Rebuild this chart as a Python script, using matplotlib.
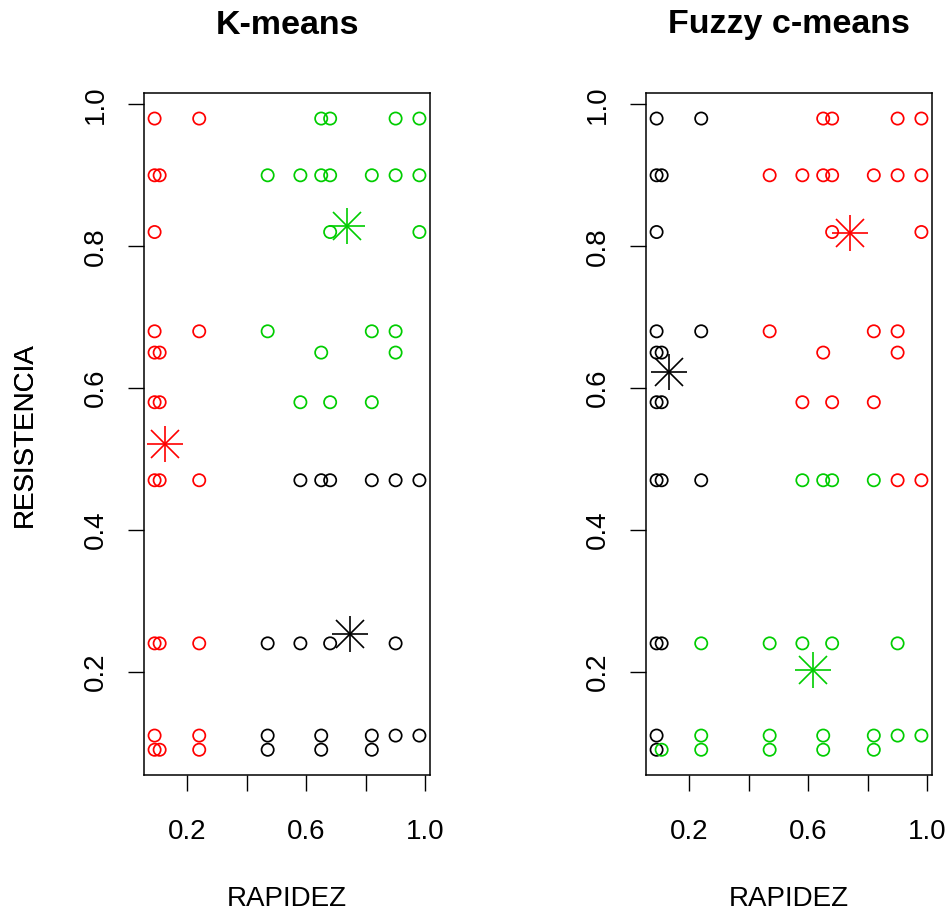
import numpy as np
import matplotlib
matplotlib.use('Agg')
import matplotlib.pyplot as plt

plt.rcParams['font.family'] = ['Liberation Sans', 'DejaVu Sans']

# datos normalizados (rapidez, resistencia)
rapidez = [0.09, 0.24, 0.65, 0.68, 0.90, 0.98,
           0.09, 0.107, 0.47, 0.58, 0.65, 0.68, 0.82, 0.90, 0.98,
           0.09, 0.68, 0.98,
           0.09, 0.24, 0.47, 0.82, 0.90,
           0.09, 0.107, 0.65, 0.90,
           0.09, 0.107, 0.58, 0.68, 0.82,
           0.09, 0.107, 0.24, 0.58, 0.65, 0.68, 0.82, 0.90, 0.98,
           0.09, 0.107, 0.24, 0.47, 0.58, 0.68, 0.90,
           0.09, 0.24, 0.47, 0.65, 0.82, 0.90, 0.98,
           0.09, 0.107, 0.24, 0.47, 0.65, 0.82]
resistencia = [0.98]*6 + [0.90]*9 + [0.82]*3 + [0.68]*5 + [0.65]*4 + [0.58]*5 \
    + [0.47]*9 + [0.24]*7 + [0.11]*7 + [0.09]*6

# grupos: 1=negro, 2=rojo, 3=verde
grupo_km = [2, 2, 3, 3, 3, 3,
            2, 2, 3, 3, 3, 3, 3, 3, 3,
            2, 3, 3,
            2, 2, 3, 3, 3,
            2, 2, 3, 3,
            2, 2, 3, 3, 3,
            2, 2, 2, 1, 1, 1, 1, 1, 1,
            2, 2, 2, 1, 1, 1, 1,
            2, 2, 1, 1, 1, 1, 1,
            2, 2, 2, 1, 1, 1]
grupo_fcm = [1, 1, 2, 2, 2, 2,
             1, 1, 2, 2, 2, 2, 2, 2, 2,
             1, 2, 2,
             1, 1, 2, 2, 2,
             1, 1, 2, 2,
             1, 1, 2, 2, 2,
             1, 1, 1, 3, 3, 3, 3, 2, 2,
             1, 1, 3, 3, 3, 3, 3,
             1, 3, 3, 3, 3, 3, 3,
             1, 3, 3, 3, 3, 3]

# centros (rapidez, resistencia) por grupo 1,2,3
centros_km = [[0.747, 0.253], [0.126, 0.521], [0.735, 0.829]]
centros_fcm = [[0.132, 0.623], [0.740, 0.819], [0.617, 0.203]]

colores = {1: 'black', 2: '#FF0000', 3: '#00CD00'}

x = np.array(rapidez)
y = np.array(resistencia)

W, H = 952, 915
fig = plt.figure(figsize=(W/100, H/100), dpi=100)

def panel(left, grupos, centros, titulo):
    ax = fig.add_axes([left/W, 1-775/H, 286/W, (775-93.3)/H])
    cols = [colores[g] for g in grupos]
    ax.scatter(x, y, s=8.8**2, facecolors='none', edgecolors=cols, linewidths=1.25, zorder=2)
    for k, (cx, cy) in enumerate(centros):
        c = colores[k+1]
        ax.plot(cx, cy, marker='+', ms=26.5, mew=1.2, color=c, zorder=3)
        ax.plot(cx, cy, marker='x', ms=19.5, mew=1.2, color=c, zorder=3)
    rx = x.max()-x.min()
    ry = y.max()-y.min()
    ax.set_xlim(x.min()-0.04*rx, x.max()+0.04*rx)
    ax.set_ylim(y.min()-0.04*ry, y.max()+0.04*ry)
    ax.set_xticks([0.2, 0.4, 0.6, 0.8, 1.0])
    ax.set_xticklabels(['0.2', '', '0.6', '', '1.0'])
    ax.set_yticks([0.2, 0.4, 0.6, 0.8, 1.0])
    ax.set_yticklabels(['0.2', '0.4', '0.6', '0.8', '1.0'], rotation=90, va='center')
    ax.tick_params(direction='out', length=11.5, width=1.0, labelsize=20)
    ax.tick_params(axis='x', pad=20)
    ax.tick_params(axis='y', pad=14)
    for s in ax.spines.values():
        s.set_linewidth(1.1)
    ax.set_xlabel('RAPIDEZ', fontsize=20, va='center')
    ax.xaxis.set_label_coords(0.5, (775-899)/(775-93.3))
    ax.set_ylabel('RESISTENCIA', fontsize=20, va='center')
    ax.yaxis.set_label_coords((25-left)/286, 0.5)
    fig.text((left+143)/W, 1-25/H, titulo, fontsize=24.5, fontweight='bold',
             ha='center', va='center')
    return ax

panel(144, grupo_km, centros_km, 'K-means')
panel(646, grupo_fcm, centros_fcm, 'Fuzzy c-means')

fig.savefig('out.png', dpi=100)
